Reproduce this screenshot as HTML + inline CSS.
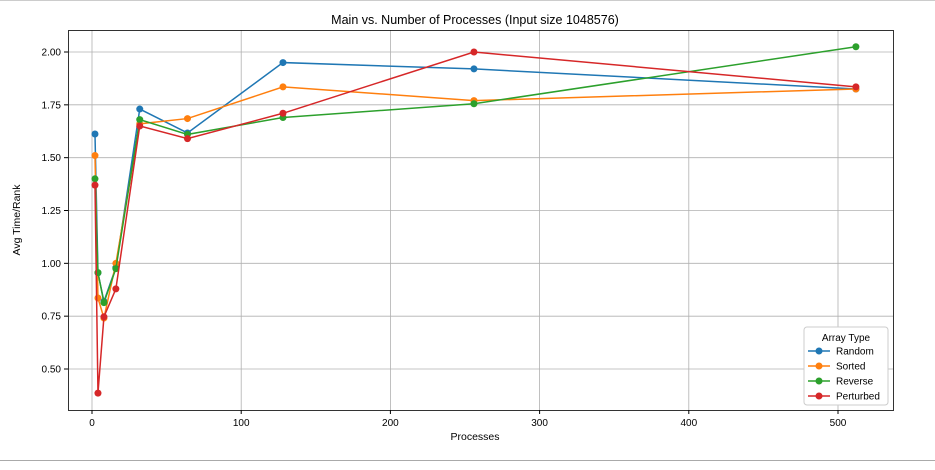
<!DOCTYPE html>
<html><head><meta charset="utf-8"><style>
body{margin:0;background:#fff;width:935px;height:465px;overflow:hidden;font-family:"Liberation Sans",sans-serif}
</style></head><body>
<svg id="chart" width="935" height="465" xmlns="http://www.w3.org/2000/svg" font-family="Liberation Sans, sans-serif">
<line x1="0" y1="0.5" x2="935" y2="0.5" stroke="#ccc"/>
<line x1="0" y1="460.5" x2="935" y2="460.5" stroke="#aaa"/>
<text x="475" y="24" text-anchor="middle" font-size="12.5">Main vs. Number of Processes (Input size 1048576)</text>
<g id="grid"></g><g id="axes"></g><g id="series"></g>
<rect x="68.5" y="30.5" width="825" height="380" fill="none" stroke="#000" stroke-width="0.8"/>
<text x="475" y="440" text-anchor="middle" font-size="10.5">Processes</text>
<text x="20" y="220" text-anchor="middle" font-size="10.5" transform="rotate(-90 20 220)">Avg Time/Rank</text>
<g id="legend">
<rect x="804" y="327" width="84" height="78" rx="3" fill="#fff" stroke="#ccc"/>
<text x="846" y="341" text-anchor="middle" font-size="10">Array Type</text>
</g>
</svg>
<script>
const processes=[2,4,8,16,32,64,128,256,512];
const seriesNames=["Random","Sorted","Reverse","Perturbed"];
const colors=["#1f77b4","#ff7f0e","#2ca02c","#d62728"];
const randomVals=[1.612,0.955,0.82,0.98,1.73,1.617,1.95,1.92,1.825];
const sortedVals=[1.51,0.836,0.741,1.0,1.66,1.685,1.835,1.77,1.825];
const reverseVals=[1.40,0.956,0.814,0.975,1.68,1.61,1.69,1.755,2.025];
const perturbedVals=[1.37,0.386,0.747,0.879,1.65,1.59,1.71,2.0,1.835];
const xTicks=[0,100,200,300,400,500];
const yTicks=[0.5,0.75,1.0,1.25,1.5,1.75,2.0];
const NS="http://www.w3.org/2000/svg";
const xs=v=>92+v*(838-92)/500;
const ys=v=>369-(v-0.5)*(369-52)/1.5;
function mk(t,a,p){const e=document.createElementNS(NS,t);for(const k in a)e.setAttribute(k,a[k]);p.appendChild(e);return e;}
const grid=document.getElementById('grid'),axes=document.getElementById('axes'),ser=document.getElementById('series'),leg=document.getElementById('legend');
xTicks.forEach(t=>{const x=xs(t);
 const g=mk('line',{x1:x,y1:30,x2:x,y2:410,stroke:'#b0b0b0','stroke-width':0.8},grid);
 
 
 mk('line',{x1:x,y1:410,x2:x,y2:414,stroke:'#000'},axes);
 const tx=mk('text',{x:x,y:426,'text-anchor':'middle','font-size':10},axes);tx.textContent=t;
 
 });
yTicks.forEach(t=>{const y=ys(t);
 const g=mk('line',{x1:68,y1:y,x2:893,y2:y,stroke:'#b0b0b0','stroke-width':0.8},grid);
 
 
 mk('line',{x1:64,y1:y,x2:68,y2:y,stroke:'#000'},axes);
 const tx=mk('text',{x:61,y:y+3.5,'text-anchor':'end','font-size':10},axes);tx.textContent=t.toFixed(2);
 
 });
[randomVals,sortedVals,reverseVals,perturbedVals].forEach((vals,i)=>{
 const g=mk('g',{},ser);
 
 
 mk('polyline',{points:vals.map((v,j)=>xs(processes[j])+','+ys(v)).join(' '),fill:'none',stroke:colors[i],'stroke-width':1.5},g);
 vals.forEach((v,j)=>{const c=mk('circle',{cx:xs(processes[j]),cy:ys(v),r:3.5,fill:colors[i]},g);
  
  });
 const ly=351+i*15;
 const le=mk('g',{},leg);
 
 
 mk('line',{x1:808,y1:ly,x2:830,y2:ly,stroke:colors[i],'stroke-width':1.5},le);
 mk('circle',{cx:819,cy:ly,r:3.5,fill:colors[i]},le);
 const t=mk('text',{x:836,y:ly+3.5,'font-size':10},le);t.textContent=seriesNames[i];
});
</script>
</body></html>
